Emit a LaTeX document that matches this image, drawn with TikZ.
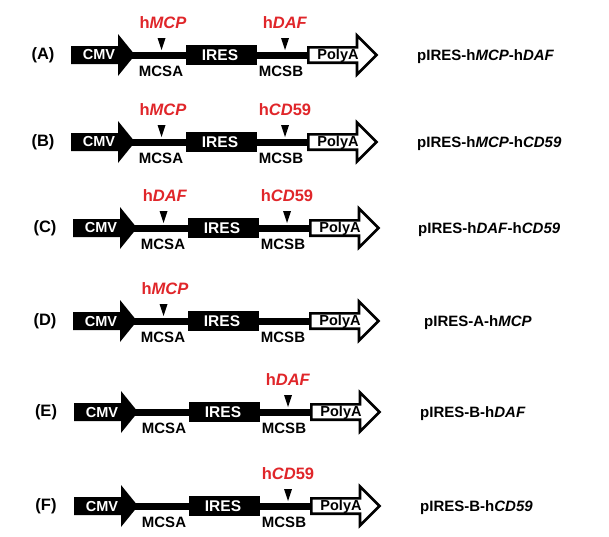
\documentclass[tikz,border=0pt]{standalone}
\usepackage{fontspec}
\setmainfont{Liberation Sans}
\definecolor{gred}{RGB}{224,38,42}
\tikzset{
  rowlbl/.style={font=\bfseries\fontsize{16.5}{18}\selectfont, inner sep=0pt},
  boxtxt/.style={font=\bfseries\fontsize{14.5}{16}\selectfont, text=white, inner sep=0pt},
  polytxt/.style={font=\bfseries\fontsize{14.5}{16}\selectfont, inner sep=0pt},
  mcstxt/.style={font=\bfseries\fontsize{15}{16}\selectfont, inner sep=0pt},
  genetxt/.style={font=\bfseries\fontsize{16.5}{18}\selectfont, text=gred, inner sep=0pt},
  nametxt/.style={font=\bfseries\fontsize{15}{16}\selectfont, inner sep=0pt, anchor=west},
  backbone/.style={line width=7pt},
  polyarrow/.style={draw, line width=2.6pt, fill=white, line join=miter},
}
% #1 row id, #2 row centre y, #3 x shift, #4 gene at MCSA, #5 gene at MCSB, #6 plasmid name, #7 name x
\newcommand\Construct[7]{%
  \begin{scope}[shift={(#3,#2)}]
    \node[rowlbl] (#1-lab) at (43,0) {(#1)};
    \coordinate (#1-start) at (128,0);
    \coordinate (#1-end) at (312,0);
    \draw[backbone] (#1-start) -- (#1-end);
    \fill (71,-9) -- (118,-9) -- (118,-21) -- (135,0) -- (118,21) -- (118,9) -- (71,9) -- cycle;
    \node[boxtxt] (#1-cmv) at (99,0) {CMV};
    \fill (186,-10) rectangle (257,10);
    \node[boxtxt, font=\bfseries\fontsize{15.5}{16}\selectfont] (#1-ires) at (220,0) {IRES};
    \draw[polyarrow] (308.3,-7.7) -- (357,-7.7) -- (357,-19.5) -- (376.5,0) -- (357,19.5) -- (357,7.7) -- (308.3,7.7) -- cycle;
    \node[polytxt] (#1-poly) at (338,0.5) {PolyA};
    \node[mcstxt] (#1-mcsa) at (161,16) {MCSA};
    \node[mcstxt] (#1-mcsb) at (281,16) {MCSB};
    \if\relax\detokenize{#4}\relax\else
      \fill (157.5,-17) -- (165.5,-17) -- (161.5,-5) -- cycle;
      \node[genetxt] (#1-ga) at (163,-32) {#4};
    \fi
    \if\relax\detokenize{#5}\relax\else
      \fill (281,-17) -- (289,-17) -- (285,-5) -- cycle;
      \node[genetxt] (#1-gb) at (285,-32) {#5};
    \fi
    \node[nametxt] (#1-name) at (#7-#3,2) {#6};
  \end{scope}}
\begin{document}
\begin{tikzpicture}[x=1pt,y=-1pt]
  \useasboundingbox[fill=white] (0,0) rectangle (609,536);
  \Construct{A}{55}{0}{h\textit{MCP}}{h\textit{DAF}}{pIRES-h\textit{MCP}-h\textit{DAF}}{417}
  \Construct{B}{142}{0}{h\textit{MCP}}{h\textit{CD}59}{pIRES-h\textit{MCP}-h\textit{CD59}}{417}
  \Construct{C}{228}{2}{h\textit{DAF}}{h\textit{CD}59}{pIRES-h\textit{DAF}-h\textit{CD59}}{418}
  \Construct{D}{321}{2}{h\textit{MCP}}{}{pIRES-A-h\textit{MCP}}{424}
  \Construct{E}{412}{3}{}{h\textit{DAF}}{pIRES-B-h\textit{DAF}}{420}
  \Construct{F}{506}{3}{}{h\textit{CD}59}{pIRES-B-h\textit{CD59}}{420}
\end{tikzpicture}
\end{document}
